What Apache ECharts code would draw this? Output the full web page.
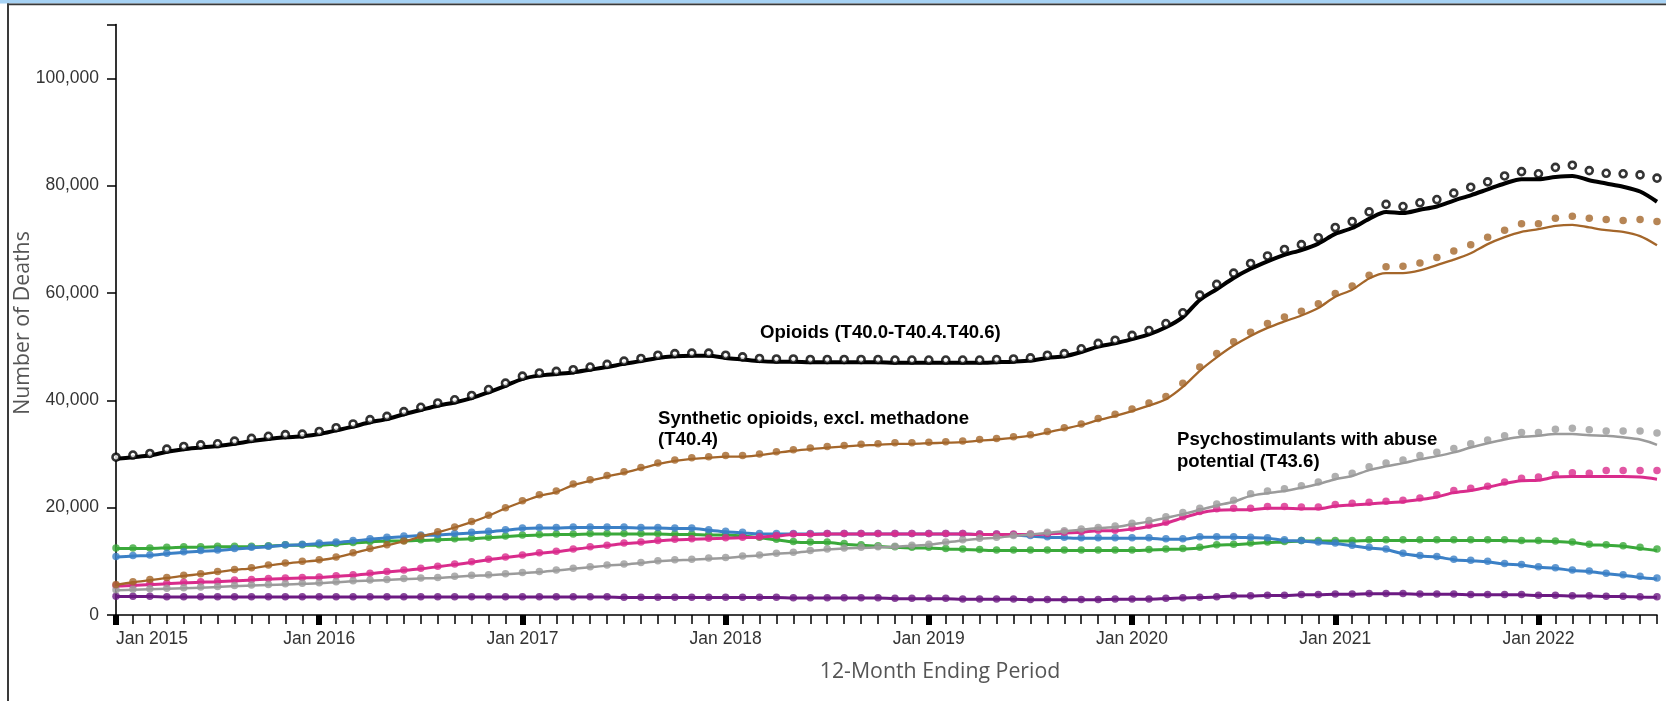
<!DOCTYPE html>
<html>
<head>
<meta charset="utf-8">
<script src="https://cdn.jsdelivr.net/npm/echarts@6/dist/echarts.min.js"></script>
<style>
html,body{margin:0;padding:0;background:#fff;}
#chart{width:1666px;height:701px;}
</style>
</head>
<body>
<div id="chart"></div>
<script>
// ---- categories ----
const years = [2015, 2016, 2017, 2018, 2019, 2020, 2021, 2022];
const monthNames = ['Jan','Feb','Mar','Apr','May','Jun','Jul','Aug','Sep','Oct','Nov','Dec'];
const lastMonthIndex2022 = 7; // Aug 2022
const categories = [];
years.forEach(y => monthNames.forEach((m, i) => {
  if (y < 2022 || i <= lastMonthIndex2022) categories.push(m + ' ' + y);
}));

const yTicks = [0, 20000, 40000, 60000, 80000, 100000];

// ---- Opioids (T40.0-T40.4,T40.6) ----
const opioidsPredicted = [
  29400,29800,30100,30900,31400,31700,31900,32400,32900,33300,33600,33700,
  34200,34900,35600,36400,37000,37900,38700,39500,40100,40900,42000,43200,
  44500,45100,45400,45700,46200,46700,47300,47800,48400,48700,48800,48800,
  48400,48100,47800,47700,47700,47600,47600,47600,47600,47600,47500,47500,
  47500,47500,47500,47500,47600,47700,47900,48400,48700,49600,50600,51200,
  52100,53000,54300,56300,59600,61600,63700,65500,66900,68100,69000,70300,
  72200,73300,75100,76500,76100,76800,77400,78600,79700,80700,81800,82600,
  82200,83400,83800,82800,82300,82200,82000,81400
];
const opioidsReported = [
  29100,29400,29700,30400,30900,31200,31500,31900,32400,32800,33100,33300,
  33700,34400,35100,35900,36500,37400,38200,39000,39600,40400,41500,42700,
  44000,44600,44900,45200,45700,46200,46800,47300,47900,48200,48300,48300,
  47900,47600,47300,47200,47200,47100,47100,47100,47100,47100,47000,47000,
  47000,47000,47000,47000,47100,47200,47400,47900,48200,49000,50000,50600,
  51400,52300,53600,55500,58700,60700,62800,64500,65900,67100,68000,69200,
  71000,72100,73800,75100,74900,75500,76100,77200,78200,79300,80400,81200,
  81200,81600,81800,81000,80400,79800,78900,77000
];

// ---- Synthetic opioids, excl. methadone (T40.4) ----
const syntheticPredicted = [
  5700,6200,6600,7000,7400,7700,8100,8500,8800,9300,9700,10000,
  10300,10800,11600,12400,13100,13800,14700,15500,16400,17400,18600,20000,
  21300,22400,23100,24400,25200,26000,26700,27500,28300,28900,29300,29500,
  29700,29700,30000,30400,30800,31100,31400,31600,31800,31900,32100,32100,
  32200,32300,32400,32700,32900,33200,33600,34200,34900,35600,36600,37400,
  38400,39500,40700,43200,46200,48700,50900,52700,54300,55500,56600,58000,
  59900,61300,63300,64900,65000,65600,66600,67800,69000,70400,71700,72900,
  72900,73900,74300,73900,73700,73500,73700,73300
];
const syntheticReported = [
  5600,6100,6500,6900,7300,7600,8000,8400,8700,9200,9600,9900,
  10200,10700,11500,12300,13000,13700,14600,15400,16300,17300,18500,19900,
  21100,22200,22900,24200,25000,25800,26500,27300,28100,28700,29100,29300,
  29500,29500,29800,30200,30600,30900,31200,31400,31600,31700,31900,31900,
  32000,32100,32200,32500,32700,33000,33400,34000,34700,35400,36300,37100,
  38000,39000,40200,42500,45500,48000,50200,52000,53500,54700,55800,57200,
  59300,60600,62700,63700,63700,64200,65200,66200,67400,69100,70400,71400,
  71900,72500,72700,72200,71700,71400,70600,68900
];

// ---- Psychostimulants with abuse potential (T43.6) ----
const psychoPredicted = [
  4700,4800,4900,5000,5100,5200,5300,5500,5600,5700,5800,5900,
  6000,6200,6400,6500,6600,6800,6900,7000,7200,7400,7500,7700,
  7900,8100,8400,8700,9000,9300,9500,9800,10100,10300,10400,10600,
  10700,11000,11200,11500,11700,12000,12300,12500,12600,12700,12800,13000,
  13200,13600,14000,14300,14500,14800,15100,15400,15700,16000,16300,16600,
  17100,17600,18300,19100,19900,20700,21400,22600,23100,23500,24100,24800,
  25800,26400,27600,28300,28900,29700,30300,31000,31900,32600,33400,34000,
  34000,34600,34800,34500,34300,34300,34300,33900
];
const psychoReported = [
  4600,4700,4800,4900,5000,5100,5200,5400,5500,5600,5700,5800,
  5900,6100,6300,6400,6500,6700,6800,6900,7100,7300,7400,7600,
  7800,8000,8300,8600,8900,9200,9400,9700,10000,10200,10300,10500,
  10600,10900,11100,11400,11600,11900,12200,12400,12500,12600,12700,12900,
  13100,13500,13900,14200,14400,14700,15000,15300,15600,15900,16200,16400,
  16900,17400,18100,18800,19600,20400,21100,22200,22700,23100,23700,24400,
  25300,25900,27000,27700,28300,29000,29600,30300,31200,32000,32700,33200,
  33400,33700,33700,33500,33400,33100,32700,31700
];

// ---- Cocaine (T40.5) ----
const cocainePredicted = [
  5500,5600,5800,5900,6100,6200,6300,6500,6600,6800,6900,7000,
  7100,7300,7500,7800,8100,8400,8700,9100,9500,9900,10400,10800,
  11200,11600,11900,12300,12700,13000,13400,13600,13900,14100,14200,14300,
  14400,14500,14600,14800,15100,15100,15200,15200,15200,15200,15200,15200,
  15200,15200,15200,15100,15100,15100,15100,15200,15400,15500,15800,15800,
  16200,16700,17300,18300,19300,19800,19900,19900,20200,20200,20100,20100,
  20600,20800,21000,21200,21400,21800,22400,23200,23600,24000,24800,25500,
  25700,26200,26500,26400,26900,26900,26900,26900
];
const cocaineReported = [
  5400,5500,5700,5800,6000,6100,6200,6400,6500,6700,6800,6900,
  7000,7200,7400,7700,8000,8300,8600,9000,9400,9800,10300,10700,
  11100,11500,11800,12200,12600,12900,13300,13500,13800,14000,14100,14200,
  14300,14400,14500,14700,15000,15000,15100,15100,15100,15100,15100,15100,
  15100,15100,15100,15000,15000,15000,15000,15100,15300,15400,15700,15700,
  16000,16500,17100,18100,19000,19500,19600,19600,19900,19900,19800,19800,
  20300,20500,20700,20900,21100,21500,22000,22800,23200,23800,24500,25000,
  25100,25700,25800,25800,25800,25800,25700,25300
];

// ---- Heroin (T40.1) ----
const heroinPredicted = [
  10900,11100,11200,11500,11800,12000,12100,12400,12600,12800,13100,13200,
  13400,13600,13900,14200,14500,14700,14900,15000,15200,15400,15600,15900,
  16200,16300,16300,16400,16400,16400,16400,16300,16300,16200,16200,15900,
  15600,15400,15200,15200,15200,15200,15200,15200,15200,15200,15200,15200,
  15200,15200,15200,15100,15100,15000,14800,14600,14500,14400,14400,14400,
  14400,14400,14200,14200,14600,14600,14600,14500,14400,14000,13900,13600,
  13400,13000,12600,12300,11500,11100,10900,10400,10200,10000,9600,9400,
  9000,8800,8400,8200,7800,7500,7200,6900
];
const heroinReported = [
  10800,11000,11100,11400,11700,11900,12000,12300,12500,12700,13000,13100,
  13300,13500,13800,14100,14400,14600,14800,14900,15100,15300,15500,15800,
  16100,16200,16200,16300,16300,16300,16300,16200,16200,16100,16100,15800,
  15500,15300,15100,15100,15100,15100,15100,15100,15100,15100,15100,15100,
  15100,15100,15100,15000,15000,14900,14700,14500,14400,14300,14300,14300,
  14300,14300,14100,14100,14500,14500,14500,14400,14300,13900,13800,13500,
  13300,12900,12500,12200,11400,11000,10800,10300,10100,9900,9500,9300,
  8900,8700,8300,8100,7700,7400,7000,6700
];

// ---- Natural & semi-synthetic opioids (T40.2) ----
const naturalPredicted = [
  12500,12500,12500,12600,12700,12700,12800,12800,12800,12900,13100,13100,
  13100,13300,13500,13700,13900,13900,14000,14100,14200,14300,14500,14700,
  14900,15000,15100,15100,15200,15200,15200,15200,15200,15100,15100,15000,
  15000,14800,14500,14100,13700,13600,13600,13300,13100,12900,12700,12600,
  12600,12400,12300,12200,12100,12100,12100,12100,12100,12100,12100,12100,
  12100,12200,12300,12400,12600,13100,13200,13400,13600,13700,13900,13900,
  13900,13900,14000,14000,14000,14000,14000,14000,14000,14000,14000,13900,
  13900,13800,13600,13200,13100,12900,12600,12300
];
const naturalReported = [
  12400,12400,12400,12500,12600,12600,12700,12700,12700,12800,13000,13000,
  13000,13200,13400,13600,13800,13800,13900,14000,14100,14200,14400,14600,
  14800,14900,15000,15000,15100,15100,15100,15100,15100,15000,15000,14900,
  14900,14700,14400,14000,13600,13500,13500,13200,13000,12800,12600,12500,
  12500,12300,12200,12100,12000,12000,12000,12000,12000,12000,12000,12000,
  12000,12100,12200,12300,12500,13000,13100,13300,13500,13600,13800,13800,
  13800,13800,13900,13900,13900,13900,13900,13900,13900,13900,13900,13800,
  13800,13700,13500,13100,13000,12800,12400,12000
];

// ---- Methadone (T40.3) ----
const methadonePredicted = [
  3500,3500,3500,3400,3400,3400,3400,3400,3400,3400,3400,3400,
  3400,3400,3400,3400,3400,3400,3400,3400,3400,3400,3400,3400,
  3400,3400,3400,3400,3400,3400,3300,3300,3300,3300,3300,3300,
  3300,3300,3300,3300,3200,3200,3200,3200,3200,3200,3100,3100,
  3100,3100,3000,3000,3000,3000,2900,2900,2900,2900,2900,3000,
  3000,3000,3100,3200,3300,3400,3600,3600,3700,3700,3800,3800,
  3900,3900,4000,4000,4000,3900,3900,3900,3800,3800,3800,3800,
  3700,3700,3600,3600,3500,3500,3400,3400
];
const methadoneReported = [
  3450,3450,3450,3350,3350,3350,3350,3350,3350,3350,3350,3350,
  3350,3350,3350,3350,3350,3350,3350,3350,3350,3350,3350,3350,
  3350,3350,3350,3350,3350,3350,3250,3250,3250,3250,3250,3250,
  3250,3250,3250,3250,3150,3150,3150,3150,3150,3150,3050,3050,
  3050,3050,2950,2950,2950,2950,2850,2850,2850,2850,2850,2950,
  2950,2950,3050,3150,3250,3350,3550,3550,3650,3650,3750,3750,
  3850,3850,3950,3950,3950,3850,3850,3850,3750,3750,3750,3750,
  3650,3650,3550,3550,3450,3450,3350,3300
];

// ---- styling ----
const seriesDefs = [
  {name:'Methadone (T40.3)', color:'#6c1a82', rep:methadoneReported, pred:methadonePredicted, w:3},
  {name:'Natural & semi-synthetic opioids (T40.2)', color:'#3aa93a', rep:naturalReported, pred:naturalPredicted, w:3},
  {name:'Heroin (T40.1)', color:'#3b80c6', rep:heroinReported, pred:heroinPredicted, w:3},
  {name:'Cocaine (T40.5)', color:'#d92c8c', rep:cocaineReported, pred:cocainePredicted, w:3},
  {name:'Psychostimulants with abuse potential (T43.6)', color:'#9b9b9b', rep:psychoReported, pred:psychoPredicted, w:2.5},
  {name:'Synthetic opioids, excl. methadone (T40.4)', color:'#a4662a', rep:syntheticReported, pred:syntheticPredicted, w:2.3},
  {name:'Opioids (T40.0-T40.4,T40.6)', color:'#000000', rep:opioidsReported, pred:opioidsPredicted, w:4, open:true}
];

const series = [];
seriesDefs.forEach((d, k) => {
  series.push({
    name: d.name + ' reported', type:'line', data:d.rep, showSymbol:false, smooth:0.3,
    lineStyle:{color:d.color, width:d.w}, itemStyle:{color:d.color}, z: 2 + k*2, silent:true
  });
  series.push({
    name: d.name + ' predicted', type:'scatter', data:d.pred,
    symbol:'circle', symbolSize: d.open ? 7 : 7.5,
    itemStyle: d.open ? {color:'#ffffff', borderColor:'#000', borderWidth:2.6} : {color:d.color},
    z: 3 + k*2, silent:true
  });
});

const labelFont = 'Liberation Sans, Arial, sans-serif';

const chart = echarts.init(document.getElementById('chart'), null, {renderer:'canvas'});
chart.setOption({
  animation:false,
  backgroundColor:'#ffffff',
  grid:{left:116, right:9, top:24.6, bottom:86},
  xAxis:[{
    type:'category', data:categories, boundaryGap:false,
    axisLine:{show:true, lineStyle:{color:'#000', width:1.6}},
    axisTick:{show:true, interval:0, length:9, lineStyle:{color:'#000', width:1.5}},
    axisLabel:{interval:11, margin:15, color:'#333', fontFamily:labelFont, fontSize:17.5, alignMinLabel:'left'},
    splitLine:{show:false}
  },{
    type:'category', data:categories, boundaryGap:false, position:'bottom',
    axisLine:{show:false},
    axisTick:{show:true, interval:11, length:10, lineStyle:{color:'#000', width:6}},
    axisLabel:{show:false},
    splitLine:{show:false}
  }],
  yAxis:{
    type:'value', min:0, max:110000, interval:20000,
    axisLine:{show:true, lineStyle:{color:'#000', width:1.6}},
    axisTick:{show:true, length:9, lineStyle:{color:'#000', width:1.5},
      customValues: yTicks.concat([110000])},
    axisLabel:{margin:17, color:'#333', fontFamily:labelFont, fontSize:17.5,
      customValues: yTicks,
      formatter: v => v.toLocaleString('en-US')},
    splitLine:{show:false}
  },
  series: series,
  graphic:[
    {type:'rect', shape:{x:0, y:0, width:1666, height:3.4}, style:{fill:'#a6d2f4'}, silent:true},
    {type:'rect', shape:{x:7, y:3.4, width:1659, height:1.8}, style:{fill:'#3a3a3a'}, silent:true},
    {type:'rect', shape:{x:7, y:3.4, width:2, height:700}, style:{fill:'#3a3a3a'}, silent:true},
    {type:'text', x:23, y:323, rotation:Math.PI/2,
      style:{text:'Number of Deaths', fill:'#555', font:'21.3px "Open Sans", "Noto Sans", sans-serif',
        textAlign:'center', textVerticalAlign:'middle', align:'center', verticalAlign:'middle'}},
    {type:'text', x:940, y:672,
      style:{text:'12-Month Ending Period', fill:'#555', font:'21.3px "Open Sans", "Noto Sans", sans-serif',
        textAlign:'center', textVerticalAlign:'middle', align:'center', verticalAlign:'middle'}},
    {type:'text', x:760, y:333, z:100,
      style:{text:'Opioids (T40.0-T40.4.T40.6)', fill:'#000', font:'bold 18.6px "Liberation Sans", Arial, sans-serif',
        textAlign:'left', textVerticalAlign:'middle', align:'left', verticalAlign:'middle'}},
    {type:'text', x:658, y:429.5, z:100,
      style:{text:'Synthetic opioids, excl. methadone\n(T40.4)', fill:'#000', font:'bold 18.6px "Liberation Sans", Arial, sans-serif',
        lineHeight:21.5, textAlign:'left', textVerticalAlign:'middle', align:'left', verticalAlign:'middle'}},
    {type:'text', x:1177, y:451, z:100,
      style:{text:'Psychostimulants with abuse\npotential (T43.6)', fill:'#000', font:'bold 18.6px "Liberation Sans", Arial, sans-serif',
        lineHeight:22, textAlign:'left', textVerticalAlign:'middle', align:'left', verticalAlign:'middle'}}
  ]
});
</script>
</body>
</html>
